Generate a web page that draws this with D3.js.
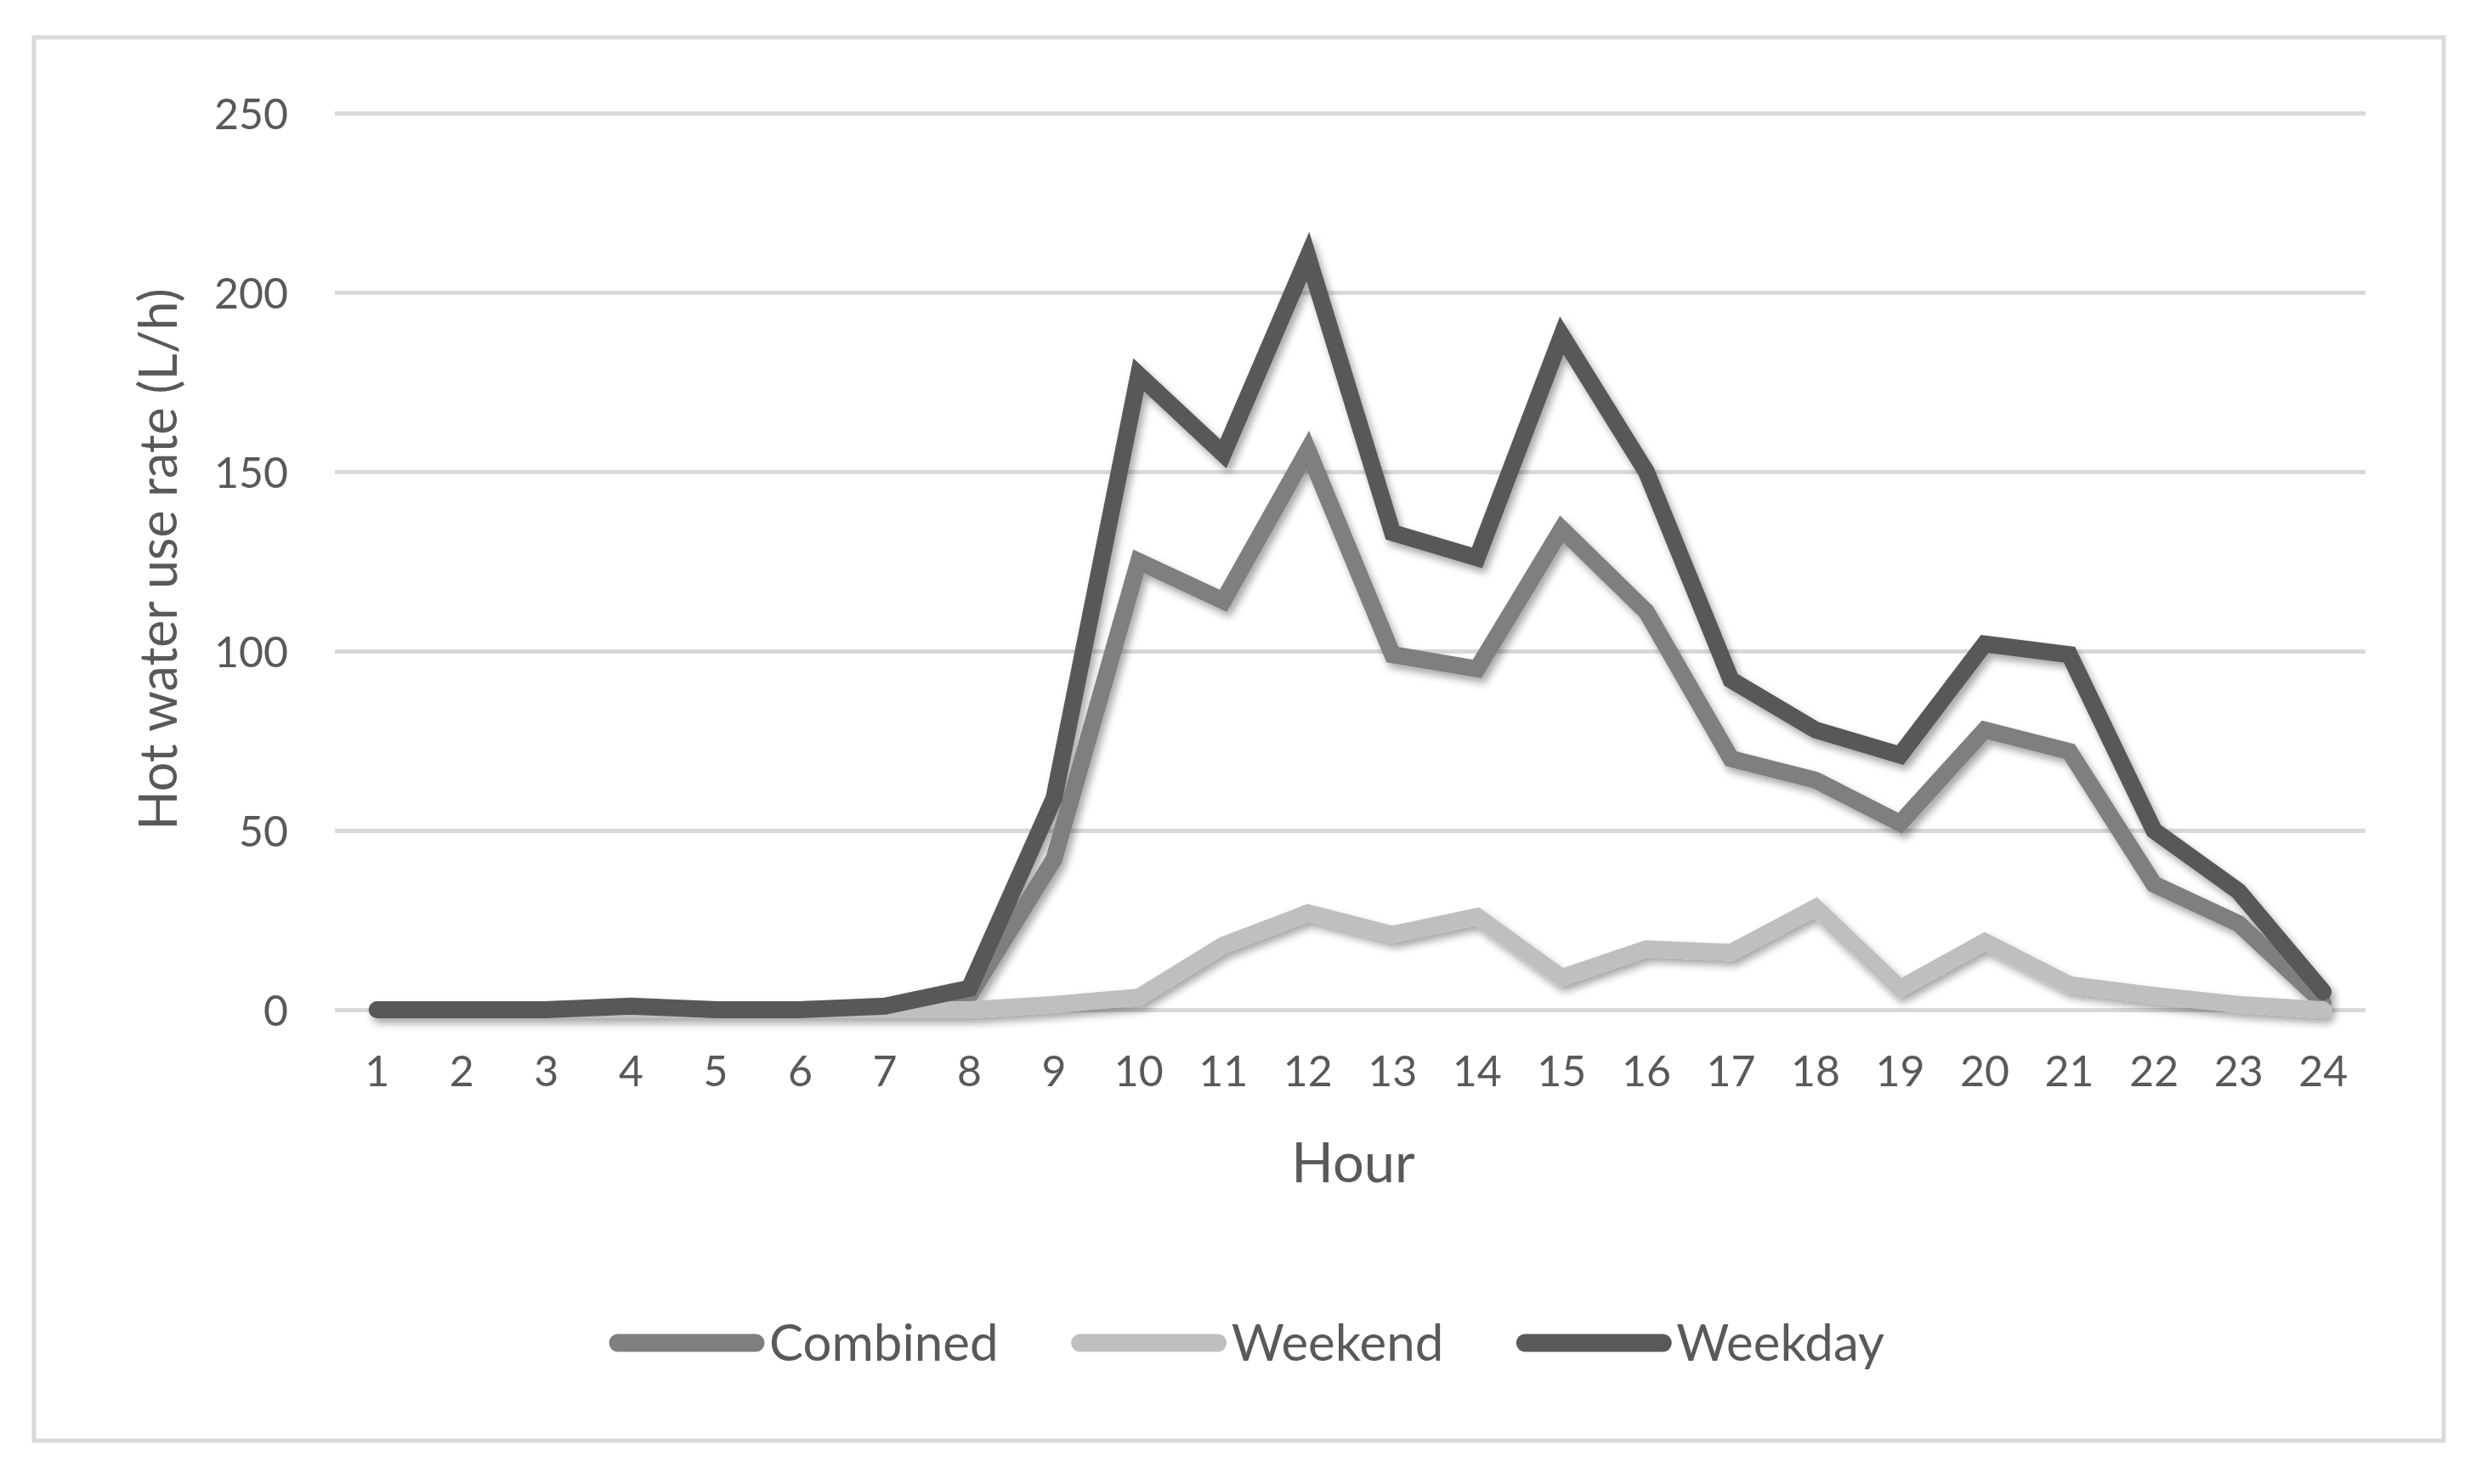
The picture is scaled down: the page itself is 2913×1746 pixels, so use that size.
<!DOCTYPE html>
<html>
<head>
<meta charset="utf-8">
<script src="https://cdn.jsdelivr.net/npm/d3@7/dist/d3.min.js"></script>
<style>
	body { margin: 0; background: #fff; }
	text { font-family: Lato, "Open Sans", sans-serif; fill: #595959; }
</style>
</head>
<body>
<div id="chart"></div>
<script>
// hours on the x axis
var hours = ["1", "2", "3", "4", "5", "6", "7", "8", "9", "10", "11", "12",
	"13", "14", "15", "16", "17", "18", "19", "20", "21", "22", "23", "24"];

// hot water use rate (L/h)
var combined = [0, 0, 0, 0.5, 0, 0, 0.5, 4, 42, 125, 114, 156, 99, 95, 134, 111, 70, 64, 52, 78, 72, 35, 24, 2];
var weekend = [0, 0, 0, 0, 0, 0, 0, 0, 1.5, 3.5, 18, 27, 21, 26, 9, 17, 16, 28.5, 6, 19, 7, 4, 1.5, 0];
var weekday = [0, 0, 0, 1, 0, 0, 1, 6, 59, 177, 155, 210, 133, 126, 188, 150, 92, 78, 71, 102, 99, 50, 33, 5];

var seriesNames = ["Combined", "Weekend", "Weekday"];
var seriesColors = ["#7f7f7f", "#bfbfbf", "#595959"];
var yTicks = [0, 50, 100, 150, 200, 250];

var series = [combined, weekend, weekday].map(function(vals, i) {
	return { name: seriesNames[i], color: seriesColors[i], values: vals };
});

var width = 2913, height = 1746;
var plot = { left: 394, right: 2783, top: 133, bottom: 1188 };

var svg = d3.select("#chart")
	.append("svg")
	.attr("width", width)
	.attr("height", height);

var defs = svg.append("defs");
var shadow = defs.append("filter")
	.attr("id", "shadow")
	.attr("x", "-10%").attr("y", "-10%")
	.attr("width", "120%").attr("height", "130%");
shadow.append("feDropShadow")
	.attr("dx", 4)
	.attr("dy", 6)
	.attr("stdDeviation", 5)
	.attr("flood-color", "#000")
	.attr("flood-opacity", 0.35);

// chart frame
svg.append("rect")
	.attr("x", 40)
	.attr("y", 44)
	.attr("width", 2835)
	.attr("height", 1651)
	.attr("fill", "#fff")
	.attr("stroke", "#d9d9d9")
	.attr("stroke-width", 5);

var x = d3.scaleBand()
	.domain(hours)
	.range([plot.left, plot.right]);

var y = d3.scaleLinear()
	.domain([0, 250])
	.range([plot.bottom, plot.top]);

// gridlines + y labels
var yAxis = svg.append("g")
	.attr("transform", "translate(" + plot.left + ",0)")
	.call(d3.axisLeft(y)
		.tickValues(yTicks)
		.tickSize(-(plot.right - plot.left))
		.tickPadding(55));
yAxis.select(".domain").remove();
yAxis.selectAll(".tick line")
	.attr("stroke", "#d9d9d9")
	.attr("stroke-width", 5);
yAxis.selectAll(".tick text")
	.attr("font-size", 50)
	.attr("font-family", null)
	.attr("fill", null)
	.attr("dy", "0.36em");

// x labels
var xAxis = svg.append("g")
	.attr("transform", "translate(0," + plot.bottom + ")")
	.call(d3.axisBottom(x).tickSize(0).tickPadding(54));
xAxis.select(".domain").remove();
xAxis.selectAll(".tick text")
	.attr("font-size", 50)
	.attr("font-family", null)
	.attr("fill", null);

// lines
var line = d3.line()
	.x(function(d, i) { return x(hours[i]) + x.bandwidth() / 2; })
	.y(function(d) { return y(d); });

svg.append("g")
	.attr("filter", "url(#shadow)")
	.selectAll("path")
	.data(series)
	.enter()
	.append("path")
	.attr("d", function(d) { return line(d.values); })
	.attr("fill", "none")
	.attr("stroke", function(d) { return d.color; })
	.attr("stroke-width", 20)
	.attr("stroke-linejoin", "miter")
	.attr("stroke-linecap", "round");

// axis titles
svg.append("text")
	.attr("transform", "translate(208,658) rotate(-90)")
	.attr("text-anchor", "middle")
	.attr("font-size", 61)
	.text("Hot water use rate (L/h)");

svg.append("text")
	.attr("x", 1592)
	.attr("y", 1391)
	.attr("text-anchor", "middle")
	.attr("font-size", 65)
	.text("Hour");

// legend
var legend = svg.append("g");
var items = legend.selectAll("g")
	.data(series)
	.enter()
	.append("g");
items.append("path")
	.attr("d", "M10,0H172")
	.attr("stroke", function(d) { return d.color; })
	.attr("stroke-width", 21)
	.attr("stroke-linecap", "round");
items.append("text")
	.attr("x", 188)
	.attr("y", 21)
	.attr("font-size", 60)
	.text(function(d) { return d.name; });

var pos = 0, gap = 86, starts = [];
items.each(function() {
	starts.push(pos);
	pos += 188 + d3.select(this).select("text").node().getComputedTextLength() + gap;
});
var total = pos - gap;
var legendX = 1467 - total / 2;
items.attr("transform", function(d, i) {
	return "translate(" + (legendX + starts[i]) + ",1580)";
});
</script>
</body>
</html>
